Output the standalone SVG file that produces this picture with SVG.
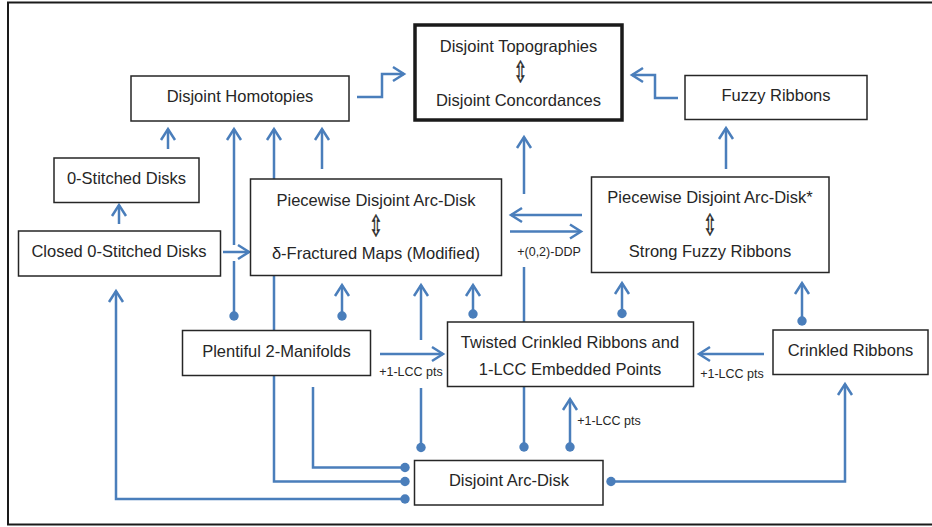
<svg xmlns="http://www.w3.org/2000/svg" width="932" height="527" viewBox="0 0 932 527">
<style>
.frame{fill:none;stroke:#1a1a1a;stroke-width:2}
.box{fill:#fff;stroke:#262626;stroke-width:1.5}
.thick{fill:#fff;stroke:#1a1a1a;stroke-width:3.5}
.t{font-family:"Liberation Sans",Arial,sans-serif;font-size:16.5px;fill:#262626;text-anchor:middle}
.sym{font-family:"DejaVu Sans","Liberation Sans",sans-serif;font-size:29px;fill:#262626;stroke:#262626;stroke-width:0.6;text-anchor:middle}
.lbl{font-family:"Liberation Sans",Arial,sans-serif;font-size:12.5px;fill:#262626;text-anchor:middle}
.c{fill:none;stroke:#4a7ebb;stroke-width:2.5}
.a{marker-end:url(#arr)}
.d{marker-start:url(#dot)}
.de{marker-end:url(#dot)}
</style>
<defs>
<marker id="arr" markerUnits="userSpaceOnUse" markerWidth="16" markerHeight="18" refX="12" refY="8" orient="auto" overflow="visible">
<path d="M1,1 L12,8 L1,15" fill="none" stroke="#4a7ebb" stroke-width="2.5"/>
</marker>
<marker id="dot" markerUnits="userSpaceOnUse" markerWidth="12" markerHeight="12" refX="6" refY="6" overflow="visible">
<circle cx="6" cy="6" r="4.7" fill="#4a7ebb"/>
</marker>
</defs>
<rect class="frame" x="8" y="2.5" width="940" height="522"/>
<g id="connectors">
<path class="c a" d="M357,97 H382 V74 H404"/>
<path class="c a" d="M678,98 H655 V75 H632"/>
<path class="c a" d="M168,149 V129"/>
<path class="c a" d="M119,224 V205"/>
<path class="c d" d="M234,316 V261"/>
<path class="c a" d="M234,245 V129"/>
<path class="c a" d="M223,252 H249"/>
<path class="c d a" d="M405,481.5 H274 V129"/>
<path class="c a" d="M322,169 V129"/>
<path class="c d a" d="M405,499 H116 V291"/>
<path class="c de" d="M313,387 V467.5 H405"/>
<path class="c d a" d="M342,316 V285"/>
<path class="c d" d="M421,447.5 V388"/>
<path class="c a" d="M421,340 V285"/>
<path class="c a" d="M380,354 H443"/>
<path class="c d a" d="M473,314 V285"/>
<path class="c d" d="M524,447 V267"/>
<path class="c a" d="M524,194 V137"/>
<path class="c d a" d="M570,447 V399"/>
<path class="c d a" d="M622,313.5 V283"/>
<path class="c d a" d="M802,321 V283"/>
<path class="c a" d="M764,354 H699"/>
<path class="c d a" d="M611,481.5 H845 V384"/>
<path class="c a" d="M726,169 V128"/>
<path class="c a" d="M582,215 H511"/>
<path class="c a" d="M510,231.5 H581"/>
<text class="lbl" x="411" y="376">+1-LCC pts</text>
<text class="lbl" x="732" y="378">+1-LCC pts</text>
<text class="lbl" x="609" y="425">+1-LCC pts</text>
<text class="lbl" x="549" y="256">+(0,2)-DDP</text>
</g>
<g id="topographies">
<rect class="thick" x="415" y="25" width="207" height="95"/>
<text class="t" x="518.5" y="52">Disjoint Topographies</text>
<text class="sym" transform="translate(520.5,82) scale(0.55,1)">⇳</text>
<text class="t" x="518.5" y="106">Disjoint Concordances</text>
</g>
<g id="homotopies">
<rect class="box" x="131" y="76" width="218" height="45"/>
<text class="t" x="240" y="102">Disjoint Homotopies</text>
</g>
<g id="fuzzy">
<rect class="box" x="685" y="75.5" width="182" height="44"/>
<text class="t" x="776" y="101">Fuzzy Ribbons</text>
</g>
<g id="stitched">
<rect class="box" x="54" y="158" width="145" height="44.5"/>
<text class="t" x="126.5" y="184">0-Stitched Disks</text>
</g>
<g id="closed">
<rect class="box" x="18.5" y="231" width="202" height="45"/>
<text class="t" x="119" y="257">Closed 0-Stitched Disks</text>
</g>
<g id="piecewise">
<rect class="box" x="250.5" y="179" width="251" height="96.5"/>
<text class="t" x="376" y="205.5">Piecewise Disjoint Arc-Disk</text>
<text class="sym" transform="translate(376,236) scale(0.55,1)">⇳</text>
<text class="t" x="376" y="259">δ-Fractured Maps (Modified)</text>
</g>
<g id="piecewise-star">
<rect class="box" x="591.5" y="177" width="237.5" height="95.5"/>
<text class="t" x="710" y="203">Piecewise Disjoint Arc-Disk*</text>
<text class="sym" transform="translate(710,235) scale(0.55,1)">⇳</text>
<text class="t" x="710" y="257">Strong Fuzzy Ribbons</text>
</g>
<g id="plentiful">
<rect class="box" x="182.5" y="330.5" width="188" height="45"/>
<text class="t" x="276.5" y="356.5">Plentiful 2-Manifolds</text>
</g>
<g id="twisted">
<rect class="box" x="447.5" y="322" width="246" height="64.5"/>
<text class="t" x="570" y="347.5">Twisted Crinkled Ribbons and</text>
<text class="t" x="570" y="375">1-LCC Embedded Points</text>
</g>
<g id="crinkled">
<rect class="box" x="773" y="330" width="155" height="44.5"/>
<text class="t" x="850.5" y="356">Crinkled Ribbons</text>
</g>
<g id="arcdisk">
<rect class="box" x="414.5" y="460.5" width="188.5" height="44.5"/>
<text class="t" x="509" y="486">Disjoint Arc-Disk</text>
</g>
</svg>
